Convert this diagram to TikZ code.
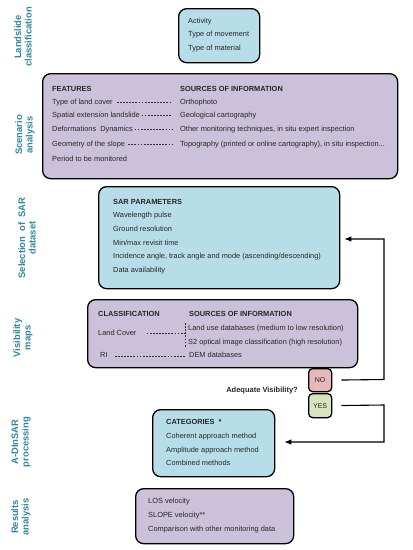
\documentclass[tikz,border=0pt]{standalone}
\usepackage{fontspec}
\setmainfont{Liberation Sans}
\usetikzlibrary{arrows.meta}
\definecolor{lblue}{HTML}{B7DEE8}
\definecolor{lilac}{HTML}{CCC1DA}
\definecolor{pinkbox}{HTML}{E6B9B8}
\definecolor{greenbox}{HTML}{D7E4BD}
\definecolor{sidecol}{HTML}{31859C}
\begin{document}
\begin{tikzpicture}[x=1pt,y=-1pt,
 box/.style={draw=black, line width=1.3pt, rounded corners=8pt, anchor=north west, inner sep=0pt},
 smallbox/.style={draw=black, line width=1.3pt, rounded corners=4pt, anchor=north west, inner sep=0pt},
 txt/.style={anchor=base west, inner sep=0pt, text height=5pt, text depth=1.5pt, font=\fontsize{7.4}{8.5}\selectfont, text=black!85},
 hd/.style={txt, font=\fontsize{7.4}{8.5}\selectfont\bfseries},
 side/.style={rotate=90, align=center, inner sep=0pt, font=\fontsize{9.4}{10.5}\selectfont\bfseries, text=sidecol},
 dsh/.style={dash pattern=on 1.8pt off 1.3pt, line width=0.45pt, black!80},
 conn/.style={line width=1.1pt},
 tip/.style={-{Latex[length=7pt,width=5.5pt]}},
]
\useasboundingbox (0,0) rectangle (413,550);

% side labels
\node[side] (l1) at (23,37) {Landslide\\classification};
\node[side] (l2) at (25,135) {Scenario\\analysis};
\node[side] (l3) at (27,238) {Selection\ \ of\ \ SAR\\dataset};
\node[side] (l4) at (23,338) {Visibility\\maps};
\node[side] (l5) at (21,442) {A-DInSAR\\processing};
\node[side] (l6) at (21,517) {Results\\analysis};

% boxes
\node[box, fill=lblue, minimum width=81pt, minimum height=54pt] (b1) at (178,8) {};
\node[box, fill=lilac, minimum width=355pt, minimum height=105pt] (b2) at (42,73) {};
\node[box, fill=lblue, minimum width=241pt, minimum height=102pt] (b3) at (98,186) {};
\node[box, fill=lilac, minimum width=270pt, minimum height=68pt] (b4) at (87,299) {};
\node[box, fill=lblue, minimum width=122pt, minimum height=67pt] (b5) at (152,409) {};
\node[box, fill=lilac, minimum width=158pt, minimum height=55pt] (b6) at (135,488) {};
\node[smallbox, fill=pinkbox, minimum width=23pt, minimum height=23pt] (no) at (308,368) {};
\node[smallbox, fill=greenbox, minimum width=23pt, minimum height=24pt] (yes) at (308,393) {};
\node[font=\fontsize{7}{8}\selectfont, text=black!85] (not) at (no.center) {NO};
\node[font=\fontsize{7}{8}\selectfont, text=black!85] (yest) at (yes.center) {YES};

% box 1
\node[txt] (a1) at (188,23.5) {Activity};
\node[txt] (a2) at (188,36.5) {Type of movement};
\node[txt] (a3) at (188,50.5) {Type of material};

% box 2
\node[hd] (fh) at (52,91.5) {FEATURES};
\node[hd] (sh) at (180,91.5) {SOURCES OF INFORMATION};
\node[txt] (f1) at (52,104) {Type of land cover};
\node[txt] (f2) at (52,117) {Spatial extension landslide};
\node[txt] (f3) at (52,131) {Deformations\ \ Dynamics};
\node[txt] (f4) at (52,146) {Geometry of the slope};
\node[txt] (f5) at (52,161) {Period to be monitored};
\node[txt] (s1) at (180,104) {Orthophoto};
\node[txt] (s2) at (180,117) {Geological cartography};
\node[txt] (s3) at (180,131) {Other monitoring techniques,\ in situ expert inspection};
\node[txt] (s4) at (180,146) {Topography (printed or online cartography), in situ inspection...};
\draw[dsh, shorten <=4pt, shorten >=8pt] (f1.east) -- (s1.west);
\draw[dsh, shorten <=1.5pt, shorten >=8pt] (f2.east) -- (s2.west);
\draw[dsh, shorten <=1.5pt, shorten >=8pt] (f3.east) -- (s3.west);
\draw[dsh, shorten <=3pt, shorten >=8pt] (f4.east) -- (s4.west);

% box 3
\node[hd] (p0) at (113,204) {SAR PARAMETERS};
\node[txt] (p1) at (113,217) {Wavelength\ pulse};
\node[txt] (p2) at (113,231.5) {Ground resolution};
\node[txt] (p3) at (113,245) {Min/max revisit time};
\node[txt] (p4) at (113,258.5) {Incidence angle, track angle and mode (ascending/descending)};
\node[txt] (p5) at (113,272.5) {Data availability};

% box 4
\node[hd] (ch) at (98,316.5) {CLASSIFICATION};
\node[hd] (vh) at (189,316.5) {SOURCES OF INFORMATION};
\node[txt] (lc) at (98,335) {Land Cover};
\node[txt] (lu) at (188,330) {Land use databases (medium to low resolution)};
\node[txt] (s2o) at (188,344) {S2 optical image classification (high resolution)};
\node[txt] (ri) at (100,357.5) {RI};
\node[txt] (dem) at (189,357.5) {DEM databases};
\coordinate (vt) at (185,323);
\coordinate (vb) at (185,347);
\draw[dsh] (vt) -- (vb);
\draw[dsh, shorten <=10pt] (lc.east) -- (lc.east -| vt);
\draw[dsh, shorten <=7pt, shorten >=4pt] (ri.east) -- (dem.west);

% decision
\node[anchor=base east, inner sep=0pt, font=\fontsize{7.5}{8.5}\selectfont\bfseries, text=black!85] (q) at (298,392) {Adequate Visibility?};

% box 5
\node[hd] (c0) at (166,424) {CATEGORIES\ \ *};
\node[txt] (c1) at (166,438) {Coherent approach method};
\node[txt] (c2) at (166,452) {Amplitude approach method};
\node[txt] (c3) at (166,465) {Combined methods};

% box 6
\node[txt] (r1) at (148,503) {LOS velocity};
\node[txt] (r2) at (148,517.5) {SLOPE velocity**};
\node[txt] (r3) at (148,531) {Comparison with other monitoring data};

% connectors
\coordinate (n1) at (384,379.5);
\coordinate (n2) at (384,239);
\coordinate (y1) at (384,405);
\coordinate (y2) at (384,442);
\draw[conn, tip, shorten <=9pt, shorten >=4pt] (no.east) -- (n1) -- (n2) -- (n2 -| b3.east);
\draw[conn, tip, shorten <=9pt, shorten >=9pt] (yes.east) -- (y1) -- (y2) -- (y2 -| b5.east);
\end{tikzpicture}
\end{document}
